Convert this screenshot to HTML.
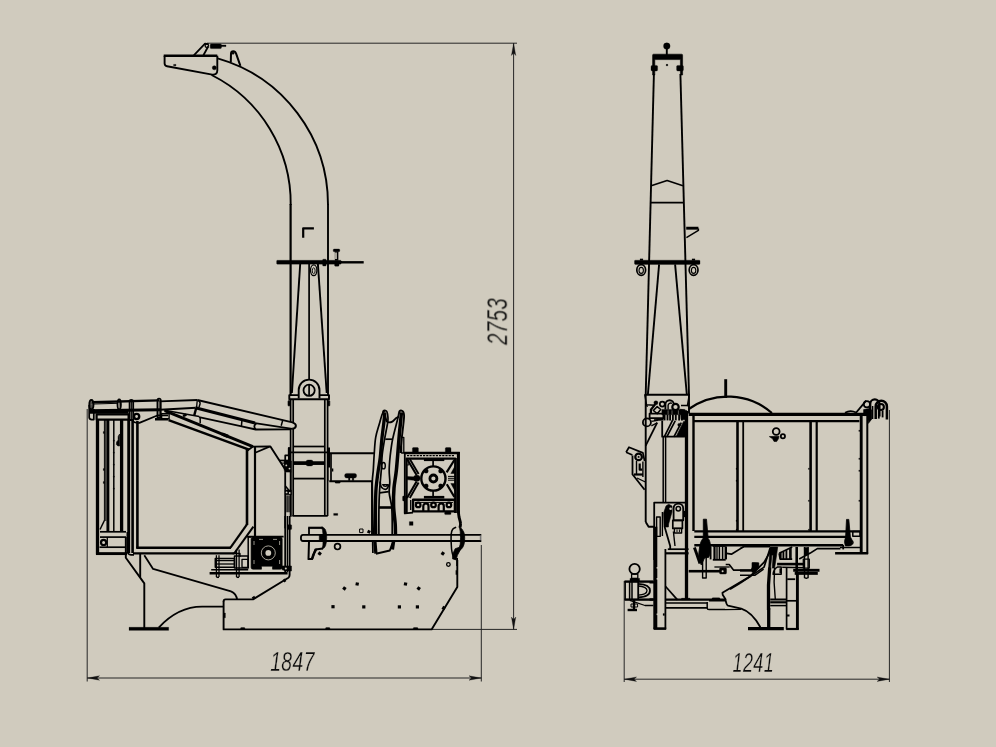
<!DOCTYPE html>
<html lang="en"><head><meta charset="utf-8"><title>Dimensions</title>
<style>
html,body{margin:0;padding:0;background:#d0cbbe;}
body{width:996px;height:747px;overflow:hidden;}
svg{display:block;}
svg *{stroke-linecap:butt;stroke-linejoin:round;}
.dim{font-family:"Liberation Sans",sans-serif;font-style:italic;font-size:27.6px;fill:#0a0a0a;stroke:#d0cbbe;stroke-width:0.35px;letter-spacing:0.6px;}
</style></head><body>
<svg width="996" height="747" viewBox="0 0 996 747">
<rect x="0" y="0" width="996" height="747" fill="#d0cbbe" stroke="none"/>
<!-- dimension lines -->
<line x1="87.2" y1="409" x2="87.2" y2="681.5" stroke="#262626" stroke-width="1"/>
<line x1="481.3" y1="545" x2="481.3" y2="681.5" stroke="#262626" stroke-width="1"/>
<line x1="87.2" y1="678" x2="481.3" y2="678" stroke="#262626" stroke-width="1"/>
<polygon points="87.2,678 99.5,675.8 97,678 99.5,680.2" fill="#111" stroke="#111" stroke-width="0.3"/>
<polygon points="481.3,678 469,675.8 471.5,678 469,680.2" fill="#111" stroke="#111" stroke-width="0.3"/>
<line x1="207" y1="43.2" x2="517" y2="43.2" stroke="#262626" stroke-width="1"/>
<line x1="432" y1="629.4" x2="517" y2="629.4" stroke="#262626" stroke-width="1"/>
<line x1="513.6" y1="43.2" x2="513.6" y2="629.4" stroke="#262626" stroke-width="1"/>
<polygon points="513.6,43.2 511.4,55.5 513.6,53 515.8,55.5" fill="#111" stroke="#111" stroke-width="0.3"/>
<polygon points="513.6,629.4 511.4,617.1 513.6,619.6 515.8,617.1" fill="#111" stroke="#111" stroke-width="0.3"/>
<line x1="624.2" y1="581" x2="624.2" y2="682" stroke="#262626" stroke-width="1"/>
<line x1="889.4" y1="410" x2="889.4" y2="682" stroke="#262626" stroke-width="1"/>
<line x1="624.2" y1="679.2" x2="889.4" y2="679.2" stroke="#262626" stroke-width="1"/>
<polygon points="624.2,679.2 636.5,677 634,679.2 636.5,681.4" fill="#111" stroke="#111" stroke-width="0.3"/>
<polygon points="889.4,679.2 877.1,677 879.6,679.2 877.1,681.4" fill="#111" stroke="#111" stroke-width="0.3"/>
<g opacity="0.999">
<text class="dim" transform="translate(270.2,671.2) scale(0.70,1)" x="0" y="0">1847</text>
<text class="dim" transform="translate(732.6,672) scale(0.65,1)" x="0" y="0">1241</text>
<text class="dim" style="font-size:29.2px" transform="translate(507.2,345) rotate(-90) scale(0.70,1)" x="0" y="0">2753</text>
</g>
<!-- left view: discharge chute -->
<path d="M217.6,58.4 A152,152 0 0 1 328,205" fill="none" stroke="#000" stroke-width="1.9"/>
<line x1="328" y1="204" x2="328" y2="395" stroke="#000" stroke-width="1.9"/>
<path d="M211.6,75 A143.8,143.8 0 0 1 290.7,205" fill="none" stroke="#000" stroke-width="1.9"/>
<line x1="290.6" y1="204" x2="290.6" y2="395" stroke="#000" stroke-width="2.2"/>
<path d="M163.7,55.7 L217.3,55.7" fill="none" stroke="#000" stroke-width="2.6"/>
<path d="M164.6,55.7 L164.6,63.5 Q164.8,66 167,66.3 L212.2,74.6 Q217.3,75 217.3,70.5 L217.3,55.7" fill="none" stroke="#000" stroke-width="1.9"/>
<circle cx="214.3" cy="67.8" r="2" fill="#000" stroke="#000" stroke-width="0.5"/>
<rect x="173.6" y="64.4" width="2.4" height="1.4" rx="0" fill="#000" stroke="#000" stroke-width="0.3"/>
<polyline points="193.8,55.3 205,43.7 208.6,44.1" fill="none" stroke="#000" stroke-width="1.8"/>
<polyline points="203.4,55.3 208.2,46.5" fill="none" stroke="#000" stroke-width="1.8"/>
<circle cx="206.8" cy="45.7" r="1.7" fill="none" stroke="#000" stroke-width="1.3"/>
<rect x="210.2" y="43.9" width="11.2" height="4.7" rx="1" fill="#000" stroke="#000" stroke-width="0.4"/>
<rect x="221" y="45" width="5" height="1.6" rx="0" fill="#000" stroke="#000" stroke-width="0.3"/>
<path d="M230.8,62 L231,53.6 Q231.2,51.3 233.3,51.3 Q235.3,51.3 236.1,53.6 L240.4,65.8" fill="none" stroke="#000" stroke-width="2"/>
<circle cx="233" cy="53.2" r="1.1" fill="#000" stroke="#000" stroke-width="0.6"/>
<polyline points="303.2,237.8 303.2,228.3 313.9,228.3" fill="none" stroke="#000" stroke-width="2.2"/>
<rect x="276.6" y="260.2" width="64.6" height="4" rx="0.8" fill="#000" stroke="#000" stroke-width="0.2"/>
<line x1="341" y1="262.3" x2="363.7" y2="262.3" stroke="#000" stroke-width="2.4"/>
<rect x="333.2" y="249" width="6.6" height="2.8" rx="1" fill="#000" stroke="#000" stroke-width="0.3"/>
<rect x="335" y="251.5" width="3.2" height="9" rx="0" fill="#000" stroke="#000" stroke-width="0.3"/>
<rect x="335.2" y="252.5" width="1.6" height="6.5" rx="0" fill="#d0cbbe" stroke="none" stroke-width="0.1"/>
<rect x="334.6" y="263" width="4.4" height="3.2" rx="0.8" fill="#000" stroke="#000" stroke-width="0.3"/>
<rect x="322.6" y="259.2" width="3.6" height="6.8" rx="0.8" fill="#000" stroke="#000" stroke-width="0.3"/>
<line x1="300.2" y1="264" x2="291.9" y2="393" stroke="#000" stroke-width="1.9"/>
<line x1="317.9" y1="264" x2="326.7" y2="393" stroke="#000" stroke-width="1.9"/>
<line x1="309.1" y1="264" x2="309.1" y2="379" stroke="#000" stroke-width="1.7"/>
<ellipse cx="313.7" cy="270.3" rx="3.2" ry="5.4" fill="none" stroke="#000" stroke-width="1.3"/>
<ellipse cx="313.7" cy="270.8" rx="1.4" ry="3" fill="none" stroke="#000" stroke-width="0.9"/>
<path d="M298.7,398.6 L298.7,390 A10.4,10.4 0 0 1 319.5,390 L319.5,398.6" fill="none" stroke="#000" stroke-width="1.9"/>
<circle cx="309.1" cy="390.3" r="5.6" fill="none" stroke="#000" stroke-width="1.8"/>
<line x1="309.1" y1="384.7" x2="309.1" y2="396" stroke="#000" stroke-width="1.7"/>
<!-- right view: discharge chute -->
<circle cx="666.8" cy="46.1" r="3.3" fill="#000" stroke="#000" stroke-width="0.3"/>
<line x1="666.8" y1="48" x2="666.8" y2="55" stroke="#000" stroke-width="1.9"/>
<path d="M652.6,75 L652.6,55.2 Q652.6,54.2 653.6,54.2 L681.6,54.2 Q682.6,54.2 682.6,55.2 L682.6,75 L680.4,75 L680.4,59.6 L654.8,59.6 L654.8,75 Z" fill="#000" stroke="#000" stroke-width="0.6"/>
<rect x="651" y="65.4" width="6.6" height="5.6" rx="1.2" fill="#000" stroke="#000" stroke-width="0.3"/>
<rect x="676.6" y="65.4" width="6.8" height="5.6" rx="1.2" fill="#000" stroke="#000" stroke-width="0.3"/>
<circle cx="667" cy="65.1" r="1" fill="#000" stroke="#000" stroke-width="0.2"/>
<line x1="653.9" y1="74" x2="645.7" y2="395" stroke="#000" stroke-width="1.9"/>
<line x1="680.4" y1="74" x2="689" y2="395" stroke="#000" stroke-width="1.9"/>
<polyline points="651.2,185.8 667.1,180.5 682.9,185.8" fill="none" stroke="#000" stroke-width="1.7"/>
<line x1="650.7" y1="202.7" x2="683.6" y2="202.7" stroke="#000" stroke-width="1.7"/>
<path d="M686.2,228.2 L698.4,228.2" fill="none" stroke="#000" stroke-width="2.9"/>
<polyline points="698.4,228.6 698.4,230.4 686.4,237.6" fill="none" stroke="#000" stroke-width="1.5"/>
<rect x="634.5" y="260.2" width="65.5" height="4.2" rx="0.8" fill="#000" stroke="#000" stroke-width="0.3"/>
<rect x="640" y="258.8" width="3" height="1.7" rx="0" fill="#000" stroke="#000" stroke-width="0.2"/>
<rect x="692" y="258.8" width="3" height="1.7" rx="0" fill="#000" stroke="#000" stroke-width="0.2"/>
<ellipse cx="641.2" cy="270" rx="4.4" ry="5.4" fill="none" stroke="#000" stroke-width="1.7"/>
<ellipse cx="641.2" cy="270.4" rx="2.2" ry="3" fill="none" stroke="#000" stroke-width="1.1"/>
<ellipse cx="693.6" cy="270" rx="4.4" ry="5.4" fill="none" stroke="#000" stroke-width="1.7"/>
<ellipse cx="693.6" cy="270.4" rx="2.2" ry="3" fill="none" stroke="#000" stroke-width="1.1"/>
<line x1="659.1" y1="264.4" x2="647.9" y2="394.2" stroke="#000" stroke-width="1.9"/>
<line x1="675.1" y1="264.4" x2="686.8" y2="394.2" stroke="#000" stroke-width="1.9"/>
<!-- left view: column, tank, base outline -->
<polyline points="298.7,395.1 289.3,395.1 289.3,399.3 329,399.3 329,395.1 319.5,395.1" fill="none" stroke="#000" stroke-width="1.9"/>
<line x1="290.6" y1="399" x2="290.6" y2="516" stroke="#000" stroke-width="1.7"/>
<line x1="293.2" y1="399" x2="293.2" y2="516" stroke="#000" stroke-width="1.7"/>
<line x1="324.8" y1="399" x2="324.8" y2="516" stroke="#000" stroke-width="1.7"/>
<line x1="327.6" y1="399" x2="327.6" y2="516" stroke="#000" stroke-width="1.7"/>
<rect x="288" y="400.6" width="2" height="5.4" rx="0.8" fill="#000" stroke="#000" stroke-width="0.6"/>
<rect x="328" y="400.6" width="1.8" height="5.4" rx="0.8" fill="#000" stroke="#000" stroke-width="0.6"/>
<line x1="293.2" y1="446.5" x2="324.8" y2="446.5" stroke="#000" stroke-width="1.7"/>
<line x1="289.3" y1="452.3" x2="329" y2="452.3" stroke="#000" stroke-width="1.7"/>
<line x1="289" y1="447.5" x2="289" y2="467.5" stroke="#000" stroke-width="2"/>
<line x1="329" y1="447.5" x2="329" y2="467.5" stroke="#000" stroke-width="2"/>
<line x1="331" y1="453.3" x2="331" y2="481" stroke="#000" stroke-width="1.7"/>
<line x1="327.8" y1="467" x2="327.8" y2="481.3" stroke="#000" stroke-width="1.3"/>
<line x1="293.2" y1="463.1" x2="324.8" y2="463.1" stroke="#000" stroke-width="3.7"/>
<line x1="293.2" y1="478.6" x2="324.8" y2="478.6" stroke="#000" stroke-width="1.8"/>
<rect x="306.1" y="460" width="6.9" height="6" rx="1.8" fill="#000" stroke="#000" stroke-width="0.3"/>
<line x1="292.4" y1="515.9" x2="327.7" y2="515.9" stroke="#000" stroke-width="1.9"/>
<polyline points="329.3,453.3 374.3,453.3" fill="none" stroke="#000" stroke-width="1.9"/>
<polyline points="329.3,481.3 372,481.3 372,534.4" fill="none" stroke="#000" stroke-width="1.9"/>
<rect x="344.6" y="473.4" width="12" height="4.6" rx="2" fill="#000" stroke="#000" stroke-width="0.3"/>
<rect x="348.4" y="477.5" width="1.6" height="3.1" rx="0" fill="#000" stroke="#000" stroke-width="0.3"/>
<rect x="352.2" y="477.5" width="1.6" height="3.1" rx="0" fill="#000" stroke="#000" stroke-width="0.3"/>
<rect x="332" y="468.6" width="1.2" height="2.8" rx="0" fill="#000" stroke="#000" stroke-width="0.2"/>
<rect x="335" y="481.4" width="5.3" height="1.8" rx="0.8" fill="#000" stroke="#000" stroke-width="0.2"/>
<path d="M223.6,601.4 Q223.6,599.4 225.6,599.4 L253,599.4 L288.4,577.7 Q289.6,576.8 289.6,575 L289.6,516" fill="none" stroke="#000" stroke-width="1.9"/>
<path d="M223.6,601 L223.6,629.4 L431.6,629.4 L457.3,586.9 L457.3,560" fill="none" stroke="#000" stroke-width="1.9"/>
<rect x="223.6" y="613" width="1.8" height="4.8" rx="0" fill="#000" stroke="#000" stroke-width="0.3"/>
<rect x="240.5" y="627.6" width="4.5" height="1.8" rx="0.8" fill="#000" stroke="#000" stroke-width="0.3"/>
<rect x="325.5" y="627.6" width="4.5" height="1.8" rx="0.8" fill="#000" stroke="#000" stroke-width="0.3"/>
<rect x="413.2" y="627.6" width="4.8" height="1.8" rx="0.8" fill="#000" stroke="#000" stroke-width="0.3"/>
<rect x="455.8" y="570.4" width="1.5" height="4.2" rx="0" fill="#000" stroke="#000" stroke-width="0.3"/>
<polyline points="283.5,581.2 285.6,579.8" fill="none" stroke="#000" stroke-width="2.9"/>
<polyline points="252.5,598.6 255,597" fill="none" stroke="#000" stroke-width="2.9"/>
<polyline points="442.8,609.5 444.6,606.5" fill="none" stroke="#000" stroke-width="3.1"/>
<rect x="342.8" y="586.8" width="3.2" height="3.2" fill="#000" transform="rotate(35 344.4 588.4)"/>
<rect x="355.6" y="582.4" width="3.2" height="3.2" fill="#000" transform="rotate(10 357.2 584)"/>
<rect x="403.9" y="582.4" width="3.2" height="3.2" fill="#000" transform="rotate(10 405.5 584)"/>
<rect x="417.1" y="586.8" width="3.2" height="3.2" fill="#000" transform="rotate(35 418.7 588.4)"/>
<rect x="331.4" y="605.1" width="3.2" height="3.2" fill="#000" transform="rotate(0 333 606.7)"/>
<rect x="362.2" y="605.3" width="3.2" height="3.2" fill="#000" transform="rotate(0 363.8 606.9)"/>
<rect x="397.8" y="605.3" width="3.2" height="3.2" fill="#000" transform="rotate(0 399.4 606.9)"/>
<rect x="415.8" y="605.3" width="3.2" height="3.2" fill="#000" transform="rotate(0 417.4 606.9)"/>
<rect x="441.2" y="551.9" width="3.2" height="3.2" fill="#000" transform="rotate(35 442.8 553.5)"/>
<rect x="318.1" y="552" width="3.2" height="3.2" fill="#000" transform="rotate(35 319.7 553.6)"/>
<circle cx="448.4" cy="564.5" r="1.8" fill="none" stroke="#000" stroke-width="1.3"/>
<circle cx="337.5" cy="546.6" r="2.9" fill="none" stroke="#000" stroke-width="1.7"/>
<rect x="409.3" y="521.6" width="3.8" height="3.8" rx="0" fill="#000" stroke="#000" stroke-width="0.2"/>
<rect x="359.6" y="529" width="3.4" height="3.6" rx="0" fill="none" stroke="#000" stroke-width="1"/>
<rect x="367.4" y="530.3" width="3" height="3" fill="#000" transform="rotate(25 368.9 531.8)"/>
<rect x="333.6" y="513.4" width="4.2" height="2" rx="0" fill="#000" stroke="#000" stroke-width="0.2"/>
<rect x="129" y="627.2" width="39.7" height="3.2" rx="0" fill="#000" stroke="#000" stroke-width="0.2"/>
<!-- left view: belt guard + gearbox -->
<path d="M384.7,410.8 C384.3,411.3 383.2,411.8 382.3,414 C381.4,416.2 380.4,420.2 379.3,424.1 C378.2,428 376.6,432.3 375.7,437.3 C374.8,442.3 374.6,448.8 374.2,454.2 C373.8,459.6 373.6,465.4 373.3,470 C373,474.6 372.4,476 372.3,482 C372.2,488 372.4,497.3 372.6,506 C372.8,514.7 373.2,529.7 373.3,534.4" fill="none" stroke="#000" stroke-width="1.7"/>
<line x1="372.7" y1="541.6" x2="372.9" y2="553.1" stroke="#000" stroke-width="1.7"/>
<path d="M384.8,413 C384.6,414.7 384.3,418.7 383.8,423 C383.3,427.3 382.5,432.8 381.9,438.6 C381.3,444.4 380.8,452.6 380.2,457.8 C379.6,463 379,465 378.3,470 C377.6,475 376.6,482 376.1,488 C375.6,494 375.6,498.3 375.5,506 C375.4,513.7 375.7,529.7 375.7,534.4" fill="none" stroke="#000" stroke-width="3.3"/>
<line x1="374.9" y1="541.6" x2="375.9" y2="553.7" stroke="#000" stroke-width="3.3"/>
<path d="M382.8,413 C382.9,412.6 383,411.3 383.4,410.9 C383.8,410.5 384.7,410.4 385.3,410.6 C385.9,410.8 386.6,410.9 387,412 C387.4,413.1 387.8,415.3 387.9,417 C388,418.7 388.2,418.7 387.7,422.3 C387.2,425.9 385.6,433.3 384.7,438.6 C383.8,443.9 382.9,449 382.3,454.2 C381.7,459.4 381.8,463.8 381.3,470 C380.8,476.2 379.9,485.1 379.5,491.7 C379.1,498.3 379,502.7 378.9,509.8 C378.8,516.9 378.9,530.3 378.9,534.4" fill="none" stroke="#000" stroke-width="1.7"/>
<path d="M384.6,412.2 C384.8,413.1 385.2,416 385.6,417.5 C386,419 386.2,420.6 386.8,421.4 C387.4,422.2 388.1,422.4 389,422.4 C389.9,422.4 391.1,422.3 392.3,421.6 C393.5,420.9 395.1,418.8 396.2,418 C397.3,417.2 398.4,416.8 398.8,416.6" fill="none" stroke="#000" stroke-width="1.9"/>
<path d="M398.8,413.3 C398.6,414.5 398.4,416.1 397.3,420.5 C396.2,424.9 393.7,433.8 392.5,439.8 C391.3,445.8 390.7,451.6 390.1,456.6 C389.6,461.6 389.2,465.8 389.2,470 C389.1,474.2 389.8,478.2 389.8,482 C389.8,485.8 388.9,488.9 389.2,492.9 C389.5,496.9 391.1,501.5 391.6,506.1 C392.1,510.7 392.1,515.9 392.2,520.6 C392.3,525.3 392.2,532.1 392.2,534.4" fill="none" stroke="#000" stroke-width="1.7"/>
<path d="M401.4,412.4 C401.3,413.9 401,417.8 400.6,421.7 C400.2,425.6 399.9,428.1 399.2,436.1 C398.5,444.2 397.3,461.4 396.4,470 C395.5,478.6 394.5,482 394,488 C393.5,494 393.4,500 393.6,506 C393.8,512 394.9,519.3 395.2,524 C395.5,528.7 395.4,532.7 395.5,534.4" fill="none" stroke="#000" stroke-width="3.5"/>
<line x1="393.6" y1="541.6" x2="392.4" y2="549.5" stroke="#000" stroke-width="3.3"/>
<path d="M398.8,414 C398.9,413.5 399.1,411.8 399.6,411.2 C400.1,410.6 401,410.4 401.6,410.6 C402.2,410.8 403,411.3 403.4,412.2 C403.8,413.1 404.1,414 404.1,416 C404.1,418 403.8,420 403.4,424 C403,428 402.1,435 401.6,439.8 C401.1,444.6 400.6,450.8 400.4,453" fill="none" stroke="#000" stroke-width="1.9"/>
<line x1="385.3" y1="439.2" x2="392.5" y2="439.2" stroke="#000" stroke-width="1.7"/>
<rect x="401.6" y="437.3" width="2.2" height="15.7" rx="0" fill="none" stroke="#000" stroke-width="1.3"/>
<ellipse cx="383.5" cy="465.7" rx="1.8" ry="3.2" fill="none" stroke="#000" stroke-width="1.4"/>
<path d="M380.1,481.5 C380.3,482.4 380.3,485.6 381.3,486.9 C382.3,488.2 384.8,489.7 386.1,489.3 C387.4,488.9 388.7,485.3 389.2,484.5" fill="none" stroke="#000" stroke-width="1.7"/>
<path d="M382.6,484.6 A3,3.2 0 0 0 388,484.6 Z" fill="none" stroke="#000" stroke-width="1.3"/>
<line x1="379.5" y1="492.9" x2="388.8" y2="491.7" stroke="#000" stroke-width="1.7"/>
<line x1="378.9" y1="507.5" x2="391.6" y2="507.5" stroke="#000" stroke-width="2.6"/>
<polyline points="375.9,553.7 389.8,550.5 392.8,542.3" fill="none" stroke="#000" stroke-width="1.9"/>
<line x1="404" y1="453" x2="459.8" y2="453" stroke="#000" stroke-width="2.6"/>
<line x1="458.4" y1="452" x2="458.4" y2="513" stroke="#000" stroke-width="3.1"/>
<line x1="404.8" y1="453" x2="404.8" y2="513.4" stroke="#000" stroke-width="1.8"/>
<rect x="412.4" y="447.6" width="6" height="5.4" rx="1" fill="#000" stroke="#000" stroke-width="0.3"/>
<rect x="445.3" y="447.6" width="5.7" height="5.4" rx="1" fill="#000" stroke="#000" stroke-width="0.3"/>
<line x1="407" y1="455.6" x2="455" y2="455.6" stroke="#000" stroke-width="1.1" stroke-dasharray="2.2 1"/>
<polyline points="406.6,513 406.6,458.6 455.2,458.6 455.2,513" fill="none" stroke="#000" stroke-width="2.2"/>
<line x1="455.9" y1="458" x2="455.9" y2="513" stroke="#000" stroke-width="1.8"/>
<line x1="423.9" y1="459.8" x2="444.3" y2="459.8" stroke="#000" stroke-width="2.6"/>
<line x1="433.1" y1="460" x2="433.1" y2="466.5" stroke="#000" stroke-width="1.7"/>
<line x1="423.9" y1="497.2" x2="444.3" y2="497.2" stroke="#000" stroke-width="2.6"/>
<line x1="433.1" y1="490.5" x2="433.1" y2="497" stroke="#000" stroke-width="1.7"/>
<circle cx="433.4" cy="478.5" r="12.1" fill="none" stroke="#000" stroke-width="2.4"/>
<circle cx="433.4" cy="478.5" r="3.5" fill="none" stroke="#000" stroke-width="2.8"/>
<circle cx="426.1" cy="471" r="2.3" fill="#000" stroke="#000" stroke-width="0.2"/>
<circle cx="426.1" cy="486" r="2.3" fill="#000" stroke="#000" stroke-width="0.2"/>
<circle cx="440.7" cy="471" r="2.3" fill="#000" stroke="#000" stroke-width="0.2"/>
<circle cx="440.7" cy="486" r="2.3" fill="#000" stroke="#000" stroke-width="0.2"/>
<polyline points="407,459 416.6,475" fill="none" stroke="#000" stroke-width="2.1"/>
<polyline points="409.8,459 418.6,474" fill="none" stroke="#000" stroke-width="1.9"/>
<polyline points="407,498 416.6,481.5" fill="none" stroke="#000" stroke-width="2.1"/>
<polyline points="409.8,498 418.6,482.5" fill="none" stroke="#000" stroke-width="1.9"/>
<circle cx="416.8" cy="478.3" r="3.3" fill="#000" stroke="#000" stroke-width="0.2"/>
<path d="M406.4,476.6 L416.6,477 L416.6,480.4 L406.4,479.6 Z" fill="#000" stroke="#000" stroke-width="0.5"/>
<polyline points="454.4,460 446.6,472.4" fill="none" stroke="#000" stroke-width="2.2"/>
<polyline points="454.4,497 446.8,484.2" fill="none" stroke="#000" stroke-width="2.2"/>
<path d="M455,466 L455,473.5 L450.8,473.5 Z" fill="#000" stroke="#000" stroke-width="0.4"/>
<path d="M455,491 L455,483.5 L450.8,483.5 Z" fill="#000" stroke="#000" stroke-width="0.4"/>
<line x1="448" y1="476.4" x2="455.4" y2="476.4" stroke="#000" stroke-width="1"/>
<line x1="448" y1="478.3" x2="455.4" y2="478.3" stroke="#000" stroke-width="1"/>
<line x1="448" y1="480.2" x2="455.4" y2="480.2" stroke="#000" stroke-width="1"/>
<rect x="406.6" y="460.2" width="2.2" height="4.8" rx="0" fill="none" stroke="#000" stroke-width="1"/>
<rect x="413.1" y="499.7" width="41.8" height="11.7" rx="0" fill="none" stroke="#000" stroke-width="2.4"/>
<line x1="415" y1="502.4" x2="453" y2="502.4" stroke="#000" stroke-width="1"/>
<circle cx="418.2" cy="504.9" r="2.3" fill="none" stroke="#000" stroke-width="2.2"/>
<circle cx="433.5" cy="504.9" r="2.3" fill="none" stroke="#000" stroke-width="2.2"/>
<circle cx="448.9" cy="504.9" r="2.3" fill="none" stroke="#000" stroke-width="2.2"/>
<path d="M423.3,511 L423.3,506 A2.6,2.6 0 0 1 428.5,506 L428.5,511" fill="none" stroke="#000" stroke-width="2.2"/>
<path d="M438.6,511 L438.6,506 A2.6,2.6 0 0 1 443.8,506 L443.8,511" fill="none" stroke="#000" stroke-width="2.2"/>
<polyline points="404.8,495.8 404.8,513.4 413,512.6" fill="none" stroke="#000" stroke-width="1.8"/>
<line x1="410.7" y1="500" x2="410.7" y2="510" stroke="#000" stroke-width="1.3"/>
<rect x="402.6" y="496" width="2" height="5" rx="0.8" fill="#000" stroke="#000" stroke-width="0.3"/>
<rect x="444.6" y="512" width="6.4" height="2.6" rx="0.8" fill="#000" stroke="#000" stroke-width="0.3"/>
<!-- axle -->
<path d="M481.3,534.8 L303,534.8 Q300.9,534.8 300.9,537.9 Q300.9,541 303,541 L481.3,541" fill="#d0cbbe" stroke="#000" stroke-width="1.8"/>
<rect x="479.8" y="535.6" width="1.6" height="4.6" rx="0" fill="#777" stroke="none" stroke-width="0.2"/>
<polyline points="308.2,527.8 323,527.8" fill="none" stroke="#000" stroke-width="2.2"/>
<path d="M309,527.8 L309,534.4" fill="none" stroke="#000" stroke-width="1.8"/>
<path d="M309,541.5 L308.5,559.1 L312.1,559.1 L315.3,549.5 L323,548.6" fill="none" stroke="#000" stroke-width="2"/>
<path d="M311.1,559.1 312.8,554 315.3,549.4 317.2,549 314.6,554 312.8,559.1Z" fill="#000" stroke="#000" stroke-width="0.8"/>
<path d="M321.4,527 Q326.8,527 326.7,537.3 Q326.8,548.2 322,549.1 Q323.3,545 323,541.3 L319.3,541.3 L319.3,534.6 L323,534.6 Q323,530.2 321.4,527 Z" fill="#000" stroke="#000" stroke-width="0.6"/>
<path d="M458.3,511.2 C458.4,512.2 458.7,514.8 459,516.9 C459.4,518.9 460.4,521.6 460.5,523.4 C460.7,525.2 460.1,526.9 460,527.6" fill="none" stroke="#000" stroke-width="2.9"/>
<path d="M456.1,527.2 C455.6,527.5 453.5,528.1 452.7,529.2 C451.9,530.3 451.5,531.1 451.3,533.7 C451,536.3 451.1,541.8 451.3,544.9 C451.4,548.1 451.7,550.5 452.1,552.4 C452.5,554.4 453.2,556 453.4,556.7" fill="none" stroke="#000" stroke-width="1.5"/>
<path d="M459.4,526.7 Q465.2,530.9 464.7,538.4 Q464.7,545.9 461.3,549.2 L458.3,551 Q461.1,544 460.5,537.5 Q460.5,530.9 459.4,526.7 Z" fill="#000" stroke="#000" stroke-width="0.8"/>
<path d="M455.2,548.7 459.4,547.3 460.5,549.6 457.4,555.3 456.1,559.9 452.5,558.8 453,553.4Z" fill="#000" stroke="#000" stroke-width="0.8"/>
<line x1="457.1" y1="558" x2="457.1" y2="566" stroke="#000" stroke-width="1.8"/>
<!-- left view: feed hopper, rails and rear frame -->
<line x1="97.5" y1="420" x2="97.5" y2="554.5" stroke="#000" stroke-width="3.3"/>
<line x1="104.4" y1="420" x2="104.4" y2="521" stroke="#000" stroke-width="1"/>
<line x1="105.8" y1="420" x2="105.8" y2="521" stroke="#000" stroke-width="1"/>
<line x1="107.9" y1="420" x2="107.9" y2="532" stroke="#000" stroke-width="2.9"/>
<line x1="113.8" y1="420" x2="113.8" y2="532" stroke="#000" stroke-width="1.5"/>
<line x1="121.6" y1="420" x2="121.6" y2="532" stroke="#000" stroke-width="3.3"/>
<line x1="128.7" y1="420" x2="128.7" y2="553" stroke="#000" stroke-width="2.9"/>
<line x1="132.6" y1="420" x2="132.6" y2="553" stroke="#000" stroke-width="2.6"/>
<line x1="137.4" y1="421" x2="137.4" y2="548" stroke="#000" stroke-width="2.6"/>
<rect x="103.2" y="431.5" width="1.4" height="2" rx="0" fill="#000" stroke="#000" stroke-width="0.2"/>
<rect x="103.2" y="468.5" width="1.4" height="2" rx="0" fill="#000" stroke="#000" stroke-width="0.2"/>
<rect x="103.2" y="481.5" width="1.4" height="2" rx="0" fill="#000" stroke="#000" stroke-width="0.2"/>
<rect x="113.2" y="440" width="1.2" height="1.2" rx="0" fill="#000" stroke="#000" stroke-width="0.2"/>
<rect x="113.2" y="452" width="1.2" height="1.2" rx="0" fill="#000" stroke="#000" stroke-width="0.2"/>
<rect x="113.2" y="464" width="1.2" height="1.2" rx="0" fill="#000" stroke="#000" stroke-width="0.2"/>
<rect x="113.2" y="476" width="1.2" height="1.2" rx="0" fill="#000" stroke="#000" stroke-width="0.2"/>
<rect x="113.2" y="488" width="1.2" height="1.2" rx="0" fill="#000" stroke="#000" stroke-width="0.2"/>
<path d="M119.6,434 Q117.5,436 118.2,440 Q116,441.5 116.4,444.5 Q117.5,446.5 119.6,446 Z" fill="#000" stroke="#000" stroke-width="0.6"/>
<line x1="96" y1="553.6" x2="127" y2="553.6" stroke="#000" stroke-width="2.9"/>
<polyline points="104.4,520.5 100,529.5" fill="none" stroke="#000" stroke-width="1.5"/>
<line x1="100" y1="531.8" x2="126" y2="531.8" stroke="#000" stroke-width="1.7"/>
<line x1="100" y1="537.1" x2="126" y2="537.1" stroke="#000" stroke-width="1.7"/>
<line x1="99.5" y1="547.2" x2="125.5" y2="547.2" stroke="#000" stroke-width="1.7"/>
<line x1="107.3" y1="537.1" x2="107.3" y2="547.2" stroke="#000" stroke-width="1.3"/>
<circle cx="103.6" cy="542.4" r="2.6" fill="none" stroke="#000" stroke-width="2.2"/>
<path d="M127.4,532 L127.4,551 Q127.6,554.6 131,554.8 L134,554.8" fill="none" stroke="#000" stroke-width="1.8"/>
<polyline points="125.8,537 125.8,557.7 144.3,583.4 144.3,628" fill="none" stroke="#000" stroke-width="1.9"/>
<polyline points="140.2,553.6 140.2,577.6" fill="none" stroke="#000" stroke-width="1.9"/>
<polyline points="144.3,555.2 153.1,568.9 231,591.4" fill="none" stroke="#000" stroke-width="1.8"/>
<path d="M231,591.4 Q236.4,593.6 237.2,600" fill="none" stroke="#000" stroke-width="1.8"/>
<path d="M158.7,627.6 Q178,606.6 202.1,606.6 L223.6,606.6" fill="none" stroke="#000" stroke-width="1.8"/>
<line x1="136.2" y1="547.7" x2="231" y2="547.7" stroke="#000" stroke-width="2.4"/>
<line x1="133" y1="553.3" x2="234.4" y2="553.3" stroke="#000" stroke-width="2.2"/>
<polyline points="230.5,547.7 246.8,524.7" fill="none" stroke="#000" stroke-width="2.2"/>
<polyline points="234.2,553.4 253.4,526.6" fill="none" stroke="#000" stroke-width="2"/>
<line x1="247" y1="449" x2="247" y2="525" stroke="#000" stroke-width="2.6"/>
<line x1="255" y1="446.6" x2="255" y2="537" stroke="#000" stroke-width="2.2"/>
<line x1="164.6" y1="410.6" x2="252.9" y2="446.6" stroke="#000" stroke-width="2.9"/>
<line x1="168.6" y1="420.1" x2="249" y2="449.6" stroke="#000" stroke-width="2.6"/>
<polyline points="252.9,446.6 247.6,450.4" fill="none" stroke="#000" stroke-width="1.8"/>
<polyline points="222,434 228,436.4" fill="none" stroke="#000" stroke-width="3.5"/>
<polyline points="252.9,446.6 270.4,446.4 285.2,469.5" fill="none" stroke="#000" stroke-width="1.9"/>
<polyline points="255.2,452.7 269.5,446.6" fill="none" stroke="#000" stroke-width="1.7"/>
<line x1="92" y1="402.3" x2="159" y2="400.4" stroke="#000" stroke-width="2.4"/>
<line x1="159.6" y1="401.4" x2="197.4" y2="400" stroke="#000" stroke-width="1.9"/>
<line x1="89" y1="410.7" x2="160" y2="409.7" stroke="#000" stroke-width="3.1"/>
<line x1="160" y1="409.7" x2="196.2" y2="407.7" stroke="#000" stroke-width="1.9"/>
<line x1="94" y1="404" x2="118" y2="403.3" stroke="#000" stroke-width="1"/>
<ellipse cx="91.4" cy="404.6" rx="2" ry="4.6" fill="none" stroke="#000" stroke-width="2"/>
<ellipse cx="91.4" cy="404.6" rx="0.6" ry="3" fill="none" stroke="#000" stroke-width="0.8"/>
<path d="M89.2,405 L89.2,417.5 Q89.6,419.6 91.6,419.6 L93.8,419.6 L93.8,409" fill="none" stroke="#000" stroke-width="1.7"/>
<ellipse cx="119.2" cy="404.4" rx="1.7" ry="4.9" fill="none" stroke="#000" stroke-width="1.8"/>
<line x1="119.9" y1="401" x2="120.3" y2="409.8" stroke="#000" stroke-width="1"/>
<path d="M129.6,402 Q129.4,399.8 131.2,399.8 Q133.2,399.8 133.2,402 L133.2,420 L129.6,420 Z" fill="none" stroke="#000" stroke-width="1.8"/>
<line x1="131.4" y1="401.5" x2="131.4" y2="419.5" stroke="#000" stroke-width="1"/>
<path d="M157.4,400.6 Q157.4,398.7 159,398.7 Q160.8,398.7 160.8,400.6 L160.8,417.6 L157.4,417.6 Z" fill="none" stroke="#000" stroke-width="1.7"/>
<line x1="159.2" y1="400" x2="159.2" y2="417.4" stroke="#000" stroke-width="0.9"/>
<line x1="89.6" y1="412.2" x2="128.5" y2="412.2" stroke="#000" stroke-width="2.9"/>
<rect x="96.6" y="414.4" width="32" height="5.2" rx="0" fill="none" stroke="#000" stroke-width="2.2"/>
<circle cx="136.6" cy="416.5" r="2.6" fill="none" stroke="#000" stroke-width="2.4"/>
<path d="M132.2,420.9 Q135.5,423.4 139.4,422.9 L157.9,415.3 L168,415.3" fill="none" stroke="#000" stroke-width="1.7"/>
<line x1="155" y1="419.3" x2="168.4" y2="419.4" stroke="#000" stroke-width="2.4"/>
<rect x="161.6" y="413.6" width="7.5" height="5.2" rx="0" fill="none" stroke="#000" stroke-width="1.4"/>
<path d="M195.4,407.8 L197.4,400 L292.4,422.3 Q296.2,423.6 295.9,426 Q295.5,428.6 292.2,428.8 L255,423.1 Z" fill="#d0cbbe" stroke="#d0cbbe" stroke-width="0.1"/>
<path d="M197.4,400 L292.4,422.3 Q296.2,423.6 295.9,426 Q295.5,428.6 292.2,428.8" fill="none" stroke="#000" stroke-width="1.9"/>
<path d="M197.6,400.4 Q200.6,401.4 200,404 L199,407.4" fill="none" stroke="#000" stroke-width="1.5"/>
<line x1="197.2" y1="400.6" x2="196.6" y2="407.4" stroke="#000" stroke-width="1.3"/>
<line x1="195.4" y1="407.8" x2="255" y2="423.1" stroke="#000" stroke-width="3.1"/>
<line x1="255" y1="423.1" x2="292.4" y2="428.8" stroke="#000" stroke-width="1.8"/>
<polyline points="282.8,419.9 281.2,425.8" fill="none" stroke="#000" stroke-width="1.5"/>
<polyline points="199,417.1 240.6,426.1 255.7,429.5 290.4,429.3" fill="none" stroke="#000" stroke-width="1.8"/>
<path d="M256.4,423.3 Q252.6,426 255.7,429.5" fill="none" stroke="#000" stroke-width="1.8"/>
<line x1="200.2" y1="417.1" x2="200.2" y2="423.3" stroke="#000" stroke-width="1.5"/>
<polyline points="242,419.6 241.4,426.2" fill="none" stroke="#000" stroke-width="1.5"/>
<polyline points="196.2,408 194.2,415.6" fill="none" stroke="#000" stroke-width="2.4"/>
<polyline points="164.4,410.2 199.2,416.6" fill="none" stroke="#000" stroke-width="1.5"/>
<polyline points="183,416 186.4,414.6" fill="none" stroke="#000" stroke-width="2.6"/>
<line x1="209.6" y1="573.2" x2="287.6" y2="573.2" stroke="#000" stroke-width="2.6"/>
<line x1="211.2" y1="569.7" x2="248.2" y2="569.7" stroke="#000" stroke-width="1.5"/>
<line x1="216.4" y1="555.2" x2="216.4" y2="577" stroke="#000" stroke-width="1.3"/>
<line x1="219" y1="555.2" x2="219" y2="577" stroke="#000" stroke-width="1.3"/>
<line x1="216.4" y1="577.3" x2="219" y2="577.3" stroke="#000" stroke-width="1.5"/>
<line x1="236.5" y1="549.6" x2="236.5" y2="577" stroke="#000" stroke-width="1.3"/>
<line x1="239.1" y1="549.6" x2="239.1" y2="577" stroke="#000" stroke-width="1.3"/>
<line x1="236.5" y1="577.3" x2="239.1" y2="577.3" stroke="#000" stroke-width="1.5"/>
<rect x="215.3" y="558.5" width="19.2" height="8.8" rx="0" fill="none" stroke="#000" stroke-width="1.5"/>
<line x1="215.3" y1="560.6" x2="234.5" y2="560.6" stroke="#000" stroke-width="1.3"/>
<line x1="215.3" y1="564" x2="234.5" y2="564" stroke="#000" stroke-width="1.3"/>
<rect x="234.5" y="556" width="13.7" height="12" rx="0" fill="none" stroke="#000" stroke-width="1.5"/>
<rect x="242" y="559.3" width="6.2" height="8" rx="0" fill="none" stroke="#000" stroke-width="1.3"/>
<polyline points="232.5,553.5 240,553.5 240,557" fill="none" stroke="#000" stroke-width="1.3"/>
<!-- left view: motor box and parts between hopper and column -->
<path d="M253,537.1 L280.4,537.1 Q282.2,537.1 282.2,539 L282.2,567.4 Q282.2,569.2 280.4,569.2 L272.5,569.2 L272.5,566.2 L261.5,566.2 L261.5,569.2 L253,569.2 Q251.1,569.2 251.1,567.4 L251.1,539 Q251.1,537.1 253,537.1 Z" fill="#000" stroke="#000" stroke-width="0.6"/>
<circle cx="268.3" cy="552.9" r="7" fill="none" stroke="#d0cbbe" stroke-width="0.8"/>
<circle cx="268.3" cy="552.9" r="2.9" fill="#d0cbbe" stroke="none" stroke-width="0.2"/>
<line x1="254" y1="541" x2="254" y2="545" stroke="#d0cbbe" stroke-width="0.7"/>
<line x1="254" y1="560" x2="254" y2="564" stroke="#d0cbbe" stroke-width="0.7"/>
<line x1="279.6" y1="541" x2="279.6" y2="545" stroke="#d0cbbe" stroke-width="0.7"/>
<line x1="279.6" y1="560" x2="279.6" y2="564" stroke="#d0cbbe" stroke-width="0.7"/>
<line x1="259" y1="539.4" x2="263" y2="539.4" stroke="#d0cbbe" stroke-width="0.7"/>
<line x1="273" y1="539.4" x2="277" y2="539.4" stroke="#d0cbbe" stroke-width="0.7"/>
<polyline points="248.2,568 248.2,537.1 251,537.1" fill="none" stroke="#000" stroke-width="1.5"/>
<line x1="247" y1="536.6" x2="283.6" y2="536.6" stroke="#000" stroke-width="1.8"/>
<line x1="285.2" y1="516" x2="285.2" y2="572" stroke="#000" stroke-width="1.8"/>
<line x1="287.4" y1="516" x2="287.4" y2="572" stroke="#000" stroke-width="1.3"/>
<rect x="287.6" y="524.7" width="4" height="4.9" rx="0.8" fill="#000" stroke="#000" stroke-width="0.4"/>
<path d="M282,566 L291.4,566 L291.4,571 L286,571 L282,569.6 Z" fill="#000" stroke="#000" stroke-width="0.6"/>
<circle cx="285.8" cy="568.6" r="1" fill="#d0cbbe" stroke="none" stroke-width="0.2"/>
<polyline points="279.8,460.5 289,460.5" fill="none" stroke="#000" stroke-width="1.7"/>
<polyline points="281,463.1 285.2,463.1" fill="none" stroke="#000" stroke-width="1.1"/>
<polyline points="285.2,469.7 285.2,455.4 288.7,455.4 288.7,448 290.6,448" fill="none" stroke="#000" stroke-width="1.7"/>
<path d="M284.2,461 291.4,461 291.4,472.1 284.7,472.1 284.2,469.9Z" fill="#000" stroke="#000" stroke-width="0.5"/>
<circle cx="286.3" cy="465.4" r="0.9" fill="#d0cbbe" stroke="none" stroke-width="0.2"/>
<circle cx="289.5" cy="468.6" r="0.9" fill="#d0cbbe" stroke="none" stroke-width="0.2"/>
<polyline points="285.2,472.1 285.2,528.4" fill="none" stroke="#000" stroke-width="1.8"/>
<polyline points="290.9,472.1 290.9,517.1" fill="none" stroke="#000" stroke-width="1.3"/>
<polyline points="285.2,485.8 289.2,490.8" fill="none" stroke="#000" stroke-width="1.5"/>
<path d="M285.2,490 291.4,490 291.4,494.8 285.2,494.8Z" fill="#000" stroke="#000" stroke-width="0.5"/>
<circle cx="286.6" cy="492.4" r="0.9" fill="#d0cbbe" stroke="none" stroke-width="0.2"/>
<circle cx="289.7" cy="493" r="0.9" fill="#d0cbbe" stroke="none" stroke-width="0.2"/>
<polyline points="287.1,495.4 287.1,512.3" fill="none" stroke="#000" stroke-width="1.3"/>
<polyline points="289,495.4 289,512.3" fill="none" stroke="#000" stroke-width="1.3"/>
<!-- right view: body -->
<line x1="645" y1="394.7" x2="689" y2="394.7" stroke="#000" stroke-width="1.9"/>
<line x1="645.7" y1="394" x2="645.7" y2="522" stroke="#000" stroke-width="1.9"/>
<polyline points="645.7,522 648.6,526.7 654.4,526.7" fill="none" stroke="#000" stroke-width="1.9"/>
<line x1="689" y1="394" x2="689" y2="413.5" stroke="#000" stroke-width="1.9"/>
<polyline points="645.7,405.4 647.9,406.4" fill="none" stroke="#000" stroke-width="1.4"/>
<polyline points="689,406.2 686.8,405.4" fill="none" stroke="#000" stroke-width="1.4"/>
<path d="M688.8,409 A67.4,67.4 0 0 1 771.9,413" fill="none" stroke="#000" stroke-width="2.2"/>
<line x1="725.7" y1="379.2" x2="725.7" y2="398" stroke="#000" stroke-width="2.9"/>
<line x1="688.7" y1="414.4" x2="868.1" y2="414.4" stroke="#000" stroke-width="3.1"/>
<line x1="693.5" y1="421.1" x2="859.4" y2="421.1" stroke="#000" stroke-width="2.2"/>
<line x1="686.5" y1="411" x2="686.5" y2="600" stroke="#000" stroke-width="3.3"/>
<line x1="693.5" y1="415" x2="693.5" y2="531" stroke="#000" stroke-width="2.4"/>
<line x1="663.2" y1="437" x2="663.2" y2="502" stroke="#000" stroke-width="1.5"/>
<line x1="665.6" y1="437" x2="665.6" y2="502" stroke="#000" stroke-width="1.5"/>
<line x1="737.5" y1="421" x2="737.5" y2="531.4" stroke="#000" stroke-width="2.6"/>
<line x1="743.2" y1="421" x2="743.2" y2="531.4" stroke="#000" stroke-width="1.8"/>
<line x1="810.6" y1="421" x2="810.6" y2="531.4" stroke="#000" stroke-width="2.6"/>
<line x1="816.7" y1="421" x2="816.7" y2="531.4" stroke="#000" stroke-width="2.2"/>
<rect x="736" y="468" width="1" height="1.5" rx="0" fill="#000" stroke="#000" stroke-width="0.2"/>
<rect x="736" y="480" width="1" height="1.5" rx="0" fill="#000" stroke="#000" stroke-width="0.2"/>
<rect x="736" y="520" width="1" height="1.5" rx="0" fill="#000" stroke="#000" stroke-width="0.2"/>
<rect x="736" y="529" width="1" height="1.5" rx="0" fill="#000" stroke="#000" stroke-width="0.2"/>
<rect x="808.4" y="468" width="1" height="1.5" rx="0" fill="#000" stroke="#000" stroke-width="0.2"/>
<rect x="808.4" y="500" width="1" height="1.5" rx="0" fill="#000" stroke="#000" stroke-width="0.2"/>
<rect x="808.4" y="529" width="1" height="1.5" rx="0" fill="#000" stroke="#000" stroke-width="0.2"/>
<line x1="861.2" y1="413" x2="861.2" y2="554" stroke="#000" stroke-width="2.9"/>
<line x1="867.3" y1="414" x2="867.3" y2="554" stroke="#000" stroke-width="2"/>
<rect x="858.8" y="430" width="1" height="1.5" rx="0" fill="#000" stroke="#000" stroke-width="0.2"/>
<rect x="858.8" y="458" width="1" height="1.5" rx="0" fill="#000" stroke="#000" stroke-width="0.2"/>
<rect x="858.8" y="470" width="1" height="1.5" rx="0" fill="#000" stroke="#000" stroke-width="0.2"/>
<rect x="858.8" y="500" width="1" height="1.5" rx="0" fill="#000" stroke="#000" stroke-width="0.2"/>
<line x1="694.3" y1="531.4" x2="860" y2="531.4" stroke="#000" stroke-width="2.4"/>
<line x1="694.3" y1="536.8" x2="846.4" y2="536.8" stroke="#000" stroke-width="2.2"/>
<line x1="694.3" y1="545.2" x2="843.2" y2="545.2" stroke="#000" stroke-width="2.4"/>
<rect x="852.8" y="531.4" width="7.2" height="4.8" rx="0" fill="none" stroke="#000" stroke-width="1.5"/>
<line x1="840" y1="547.5" x2="861" y2="547.5" stroke="#000" stroke-width="1.5"/>
<line x1="835.1" y1="553.2" x2="868.1" y2="553.2" stroke="#000" stroke-width="2.6"/>
<circle cx="851.5" cy="542.4" r="1.6" fill="none" stroke="#000" stroke-width="1.3"/>
<path d="M843.2,545 L843.2,549.4" fill="none" stroke="#000" stroke-width="1.8"/>
<path d="M846.5,519.4 L848.8,519.4 L850.4,537 Q852.8,540 852.4,543.6 Q852,546 849,545.9 L845.4,545.9 Q843.6,542 845.6,537 Z" fill="#000" stroke="#000" stroke-width="0.8"/>
<circle cx="776.2" cy="431.5" r="3.4" fill="none" stroke="#000" stroke-width="1.8"/>
<circle cx="782.9" cy="436.2" r="2.1" fill="none" stroke="#000" stroke-width="1.8"/>
<path d="M769.3,436.6 L779,436.2 L778.6,438.6 L776.6,441.6 L774,441.4 L772.6,438.8 Z" fill="#000" stroke="#000" stroke-width="0.6"/>
<polyline points="644.7,394.4 646.6,404.8 654.6,405.2" fill="none" stroke="#000" stroke-width="1.4"/>
<polyline points="689.3,394.4 687.4,405.5 681,405.5" fill="none" stroke="#000" stroke-width="1.4"/>
<circle cx="655.9" cy="402.8" r="2.1" fill="#000" stroke="#000" stroke-width="0.3"/>
<polyline points="655.3,404.1 650.9,409.7 650.9,413.6" fill="none" stroke="#000" stroke-width="2.2"/>
<polygon points="657.2,406.6 660.7,409.5 657.2,413.7 653.3,410.5" fill="none" stroke="#000" stroke-width="1.5"/>
<circle cx="662.3" cy="404.1" r="2.5" fill="none" stroke="#000" stroke-width="1.7"/>
<path d="M665.4,409.5 L665.4,404.4 A4.2,4.2 0 0 1 673.8,404.4" fill="none" stroke="#000" stroke-width="1.9"/>
<path d="M668.1,409.5 L668.1,405.3 A2.6,2.6 0 0 1 672,403.4" fill="none" stroke="#000" stroke-width="1.4"/>
<circle cx="675.5" cy="407" r="3.2" fill="none" stroke="#000" stroke-width="2.2"/>
<rect x="661.8" y="409.4" width="23" height="5.4" rx="0" fill="#000" stroke="#000" stroke-width="0.3"/>
<line x1="668.1" y1="410.4" x2="668.1" y2="414.8" stroke="#8a8780" stroke-width="0.7"/>
<line x1="672" y1="410.4" x2="672" y2="414.8" stroke="#8a8780" stroke-width="0.7"/>
<line x1="678.4" y1="410.4" x2="678.4" y2="414.8" stroke="#8a8780" stroke-width="0.7"/>
<line x1="664.6" y1="414.5" x2="664.6" y2="420.4" stroke="#000" stroke-width="1.8"/>
<line x1="667.5" y1="414.5" x2="667.5" y2="420.4" stroke="#000" stroke-width="1.8"/>
<line x1="670.1" y1="414.5" x2="670.1" y2="420.4" stroke="#000" stroke-width="1.8"/>
<line x1="672.9" y1="414.5" x2="672.9" y2="420.4" stroke="#000" stroke-width="1.8"/>
<line x1="675.8" y1="414.5" x2="675.8" y2="420.4" stroke="#000" stroke-width="1.8"/>
<line x1="679.1" y1="414.5" x2="679.1" y2="420.4" stroke="#000" stroke-width="1.8"/>
<line x1="681.9" y1="414.5" x2="681.9" y2="420.4" stroke="#000" stroke-width="1.8"/>
<path d="M680.3,409.2 686.8,410.5 686.8,420.1 681,419.5Z" fill="#000" stroke="#000" stroke-width="0.5"/>
<rect x="649.6" y="413.6" width="13.8" height="4.6" rx="0" fill="none" stroke="#000" stroke-width="1.8"/>
<polyline points="654,420.1 663.6,419.5" fill="none" stroke="#000" stroke-width="1.8"/>
<circle cx="646.9" cy="422.4" r="4" fill="none" stroke="#000" stroke-width="1.8"/>
<polyline points="651.4,421.4 657.8,420.4" fill="none" stroke="#000" stroke-width="1.4"/>
<polyline points="657.2,422.7 645.6,445.8" fill="none" stroke="#000" stroke-width="1.8"/>
<polyline points="651.4,425.9 657.2,422.7" fill="none" stroke="#000" stroke-width="1.3"/>
<polyline points="662.2,420.7 662.2,436.7 684.9,436.7" fill="none" stroke="#000" stroke-width="1.8"/>
<polyline points="672.6,420.1 664.3,436.8" fill="none" stroke="#000" stroke-width="1.7"/>
<polyline points="675.2,420.8 666.8,436.8" fill="none" stroke="#000" stroke-width="1.7"/>
<polyline points="681.3,422.7 673.9,436.8" fill="none" stroke="#000" stroke-width="1.7"/>
<path d="M683.6,421.4 685.5,421.4 685.5,436.5 676.2,436.5Z" fill="#000" stroke="#000" stroke-width="0.6"/>
<circle cx="679.2" cy="424.8" r="1.6" fill="#000" stroke="#000" stroke-width="0.2"/>
<path d="M626.1,452.2 L629,447.2 L642.9,452.9 L644.6,461" fill="none" stroke="#000" stroke-width="1.7"/>
<polyline points="626.1,452.2 632.4,455" fill="none" stroke="#000" stroke-width="1.7"/>
<circle cx="638.6" cy="456.9" r="3.3" fill="none" stroke="#000" stroke-width="2.2"/>
<circle cx="638.6" cy="456.9" r="0.9" fill="#000" stroke="#000" stroke-width="0.2"/>
<polyline points="632.5,455.5 632.5,474.5 634,476.2 644.6,489.8" fill="none" stroke="#000" stroke-width="1.8"/>
<polyline points="636.5,461 636.5,474.5" fill="none" stroke="#000" stroke-width="1.4"/>
<polyline points="639.7,463.5 639.7,469.7 642.2,469.7" fill="none" stroke="#000" stroke-width="2.2"/>
<polyline points="642.9,461.5 642.9,477" fill="none" stroke="#000" stroke-width="1.4"/>
<polyline points="634,474.5 643,474.5" fill="none" stroke="#000" stroke-width="2.2"/>
<polyline points="637,478 645.4,482" fill="none" stroke="#000" stroke-width="1.3"/>
<polyline points="654.2,560 654.2,502.6 685.6,502.6" fill="none" stroke="#000" stroke-width="1.8"/>
<path d="M673.6,520.3 L673.6,508.4 A4.8,4.8 0 0 1 683.2,508.4 L683.2,520.3 Z" fill="none" stroke="#000" stroke-width="1.8"/>
<circle cx="678.3" cy="508.8" r="2.2" fill="none" stroke="#000" stroke-width="1.5"/>
<rect x="672.8" y="520.3" width="9.6" height="8.1" rx="0" fill="none" stroke="#000" stroke-width="1.7"/>
<rect x="674.4" y="528.4" width="7.2" height="4.6" rx="0" fill="none" stroke="#000" stroke-width="1.4"/>
<line x1="677" y1="529.5" x2="677" y2="532" stroke="#000" stroke-width="1"/>
<line x1="679.4" y1="529.5" x2="679.4" y2="532" stroke="#000" stroke-width="1"/>
<path d="M663.6,513 L666,506 L668.6,504.2 L672,506 L672,512 L668.6,524 L668.4,527 L664,527 Z" fill="#000" stroke="#000" stroke-width="0.6"/>
<circle cx="670.6" cy="508.8" r="1.3" fill="#d0cbbe" stroke="none" stroke-width="0.2"/>
<rect x="683.4" y="511" width="2" height="6" rx="0" fill="#000" stroke="#000" stroke-width="0.3"/>
<rect x="656.6" y="517" width="3.6" height="19.4" rx="0" fill="none" stroke="#000" stroke-width="1.4"/>
<line x1="662.4" y1="512" x2="662.4" y2="536" stroke="#000" stroke-width="1.4"/>
<polyline points="664.6,526.7 670.2,546 670.2,549.2" fill="none" stroke="#000" stroke-width="1.8"/>
<polyline points="673.4,531.5 675,546" fill="none" stroke="#000" stroke-width="1.4"/>
<line x1="667.8" y1="549.2" x2="688.6" y2="549.2" stroke="#000" stroke-width="1.7"/>
<line x1="665.4" y1="553.3" x2="688.6" y2="553.3" stroke="#000" stroke-width="2.2"/>
<line x1="655.3" y1="526.7" x2="655.3" y2="629" stroke="#000" stroke-width="4"/>
<line x1="665.4" y1="549" x2="665.4" y2="629" stroke="#000" stroke-width="1.8"/>
<line x1="653.6" y1="628.6" x2="666.2" y2="628.6" stroke="#000" stroke-width="2.6"/>
<rect x="656.6" y="567" width="1.4" height="1.6" rx="0" fill="#d0cbbe" stroke="none" stroke-width="0.2"/>
<rect x="656.6" y="578" width="1.4" height="1.6" rx="0" fill="#d0cbbe" stroke="none" stroke-width="0.2"/>
<rect x="656.6" y="613.5" width="1.4" height="1.6" rx="0" fill="#d0cbbe" stroke="none" stroke-width="0.2"/>
<rect x="663" y="613.5" width="1.6" height="2" rx="0" fill="#000" stroke="#000" stroke-width="0.2"/>
<circle cx="634.6" cy="569" r="5.2" fill="none" stroke="#000" stroke-width="1.8"/>
<rect x="631.6" y="574" width="6.2" height="4.4" rx="0" fill="none" stroke="#000" stroke-width="1.3"/>
<rect x="630" y="578.4" width="9.6" height="2.6" rx="0" fill="#000" stroke="#000" stroke-width="0.4"/>
<line x1="624.5" y1="581.6" x2="653.4" y2="581.6" stroke="#000" stroke-width="2.4"/>
<line x1="624.5" y1="599.6" x2="653.4" y2="599.6" stroke="#000" stroke-width="2.4"/>
<line x1="625.2" y1="581" x2="625.2" y2="600" stroke="#000" stroke-width="1.5"/>
<line x1="629.6" y1="582" x2="629.6" y2="599" stroke="#000" stroke-width="1.5"/>
<line x1="632" y1="582" x2="632" y2="599" stroke="#000" stroke-width="1.5"/>
<line x1="638.2" y1="582" x2="638.2" y2="599" stroke="#000" stroke-width="1.8"/>
<path d="M638.2,583.8 Q650,584.5 650,590.6 Q650,597 638.2,597.4" fill="none" stroke="#000" stroke-width="1.8"/>
<path d="M638.2,586 Q647,586.6 647,590.6 Q647,594.8 638.2,595.2" fill="none" stroke="#000" stroke-width="1.3"/>
<rect x="649.6" y="581.2" width="4.4" height="2.2" rx="0" fill="#000" stroke="#000" stroke-width="0.2"/>
<rect x="649.6" y="598.4" width="4.4" height="2.2" rx="0" fill="#000" stroke="#000" stroke-width="0.2"/>
<polyline points="634,600 634,610" fill="none" stroke="#000" stroke-width="2.4"/>
<rect x="631" y="604" width="6.6" height="3" rx="0" fill="none" stroke="#000" stroke-width="1"/>
<line x1="627.6" y1="610" x2="637" y2="610" stroke="#000" stroke-width="2.4"/>
<polyline points="629.8,600.4 645,605.5 653.4,605.5" fill="none" stroke="#000" stroke-width="1.3"/>
<line x1="665.4" y1="599.6" x2="725.7" y2="599.6" stroke="#000" stroke-width="2.2"/>
<line x1="665.4" y1="603" x2="707" y2="603" stroke="#000" stroke-width="1.3"/>
<line x1="665.4" y1="607.9" x2="707.2" y2="607.9" stroke="#000" stroke-width="1.8"/>
<path d="M709,600.6 L725.7,600.6 Q726.5,605 728,605.6 L741.2,608.6 Q752,612 760.4,627.2" fill="none" stroke="#000" stroke-width="1.8"/>
<path d="M725,609.6 L709,609.6 Q707.2,609.6 707.2,608 L707.2,602" fill="none" stroke="#000" stroke-width="1.5"/>
<line x1="725" y1="609.6" x2="741" y2="609.4" stroke="#000" stroke-width="1.3"/>
<rect x="712" y="597.8" width="8" height="1.8" rx="0.8" fill="#000" stroke="#000" stroke-width="0.3"/>
<polyline points="665.4,586.2 677.5,599.9" fill="none" stroke="#000" stroke-width="1.7"/>
<rect x="681.5" y="598.2" width="8.5" height="1.8" rx="0" fill="#000" stroke="#000" stroke-width="0.3"/>
<line x1="688.7" y1="571.2" x2="720" y2="571.2" stroke="#000" stroke-width="2.6"/>
<rect x="719.5" y="567.8" width="7" height="6.2" rx="1.2" fill="#000" stroke="#000" stroke-width="0.4"/>
<circle cx="722.6" cy="571.2" r="1" fill="#d0cbbe" stroke="none" stroke-width="0.2"/>
<line x1="714.4" y1="567" x2="729.7" y2="567" stroke="#000" stroke-width="1.3"/>
<polyline points="725.7,564.5 729.2,564.5 733.7,570.2 751.4,570.2 754.9,563.4" fill="none" stroke="#000" stroke-width="1.7"/>
<path d="M753.3,562.8 758.8,562.8 758.8,568.6 754.6,570.2Z" fill="#000" stroke="#000" stroke-width="0.6"/>
<rect x="702.6" y="554" width="3.6" height="24" rx="0" fill="none" stroke="#000" stroke-width="1.4"/>
<path d="M703.3,519.2 L706.5,519.2 L708.2,538.5 Q710.6,541 710.5,548 Q710.4,555 708.6,557.4 L704.6,558 L701.2,565 L698.6,556 Q699.4,544 701.6,540.4 L703.3,538 Z" fill="#000" stroke="#000" stroke-width="0.8"/>
<line x1="710.6" y1="546.4" x2="710.6" y2="559.4" stroke="#000" stroke-width="1.8"/>
<line x1="714.5" y1="546.4" x2="714.5" y2="559.4" stroke="#000" stroke-width="2.2"/>
<line x1="717" y1="546.4" x2="717" y2="559.4" stroke="#000" stroke-width="1.3"/>
<line x1="719.4" y1="546.4" x2="719.4" y2="559.4" stroke="#000" stroke-width="1.5"/>
<line x1="722.6" y1="546.4" x2="722.6" y2="559.4" stroke="#000" stroke-width="1.5"/>
<line x1="725.8" y1="546.4" x2="725.8" y2="559.4" stroke="#000" stroke-width="2.4"/>
<line x1="712.8" y1="546.2" x2="725.7" y2="546.2" stroke="#000" stroke-width="1.3"/>
<line x1="712.8" y1="559.8" x2="725.7" y2="559.8" stroke="#000" stroke-width="1.8"/>
<polyline points="743.8,546.6 731.4,554.2 726.6,553.4" fill="none" stroke="#000" stroke-width="1.7"/>
<polyline points="694.4,547.4 700,563.4" fill="none" stroke="#000" stroke-width="2.9"/>
<path d="M726,600 L722.8,595.1 L722.4,592.7 L749.8,576.6 L764.2,562.1 L770.6,550.9" fill="none" stroke="#000" stroke-width="1.8"/>
<polyline points="770.6,550.9 772.5,547.5" fill="none" stroke="#000" stroke-width="1.8"/>
<path d="M770.1,547 777.7,547 776.3,557.1 774.6,568.1 772.3,568.1 773.1,555.1 771.9,555.1 770.6,568.1 768.6,568.1Z" fill="#000" stroke="#000" stroke-width="0.6"/>
<polyline points="769.7,567.6 768.5,585.2 768.5,610" fill="none" stroke="#000" stroke-width="3.3"/>
<line x1="768.7" y1="608" x2="768.7" y2="627.8" stroke="#000" stroke-width="3.3"/>
<polyline points="774.6,568.1 774.1,582.2 775.3,599.3" fill="none" stroke="#000" stroke-width="1.4"/>
<polyline points="740,548.6 743.5,546.8 770.1,546.8" fill="none" stroke="#000" stroke-width="1.5"/>
<path d="M752,562.6 758.1,563.1 758.1,568.1 755.1,572.3 752,572.3Z" fill="#000" stroke="#000" stroke-width="0.6"/>
<polyline points="740,570.6 753.1,570.6" fill="none" stroke="#000" stroke-width="2.2"/>
<polyline points="740,583.2 764.1,567.1 770.1,548.1" fill="none" stroke="#000" stroke-width="1.7"/>
<polyline points="740,575.2 755.1,575.2 763.6,569.1" fill="none" stroke="#000" stroke-width="1.5"/>
<polyline points="730,589.3 740,583.2" fill="none" stroke="#000" stroke-width="1.7"/>
<polyline points="779.2,553.3 792.2,547" fill="none" stroke="#000" stroke-width="1.7"/>
<polyline points="779.2,553.3 780.2,559.1 792.2,559.1" fill="none" stroke="#000" stroke-width="1.8"/>
<line x1="780.7" y1="552.6" x2="780.7" y2="559.1" stroke="#000" stroke-width="1.8"/>
<line x1="783.4" y1="551.6" x2="783.4" y2="559.1" stroke="#000" stroke-width="1.8"/>
<line x1="786.4" y1="550.1" x2="786.4" y2="559.1" stroke="#000" stroke-width="1.8"/>
<line x1="790" y1="548.3" x2="790" y2="559.1" stroke="#000" stroke-width="1.8"/>
<polyline points="799.2,559.1 810.3,553.1 817.3,548.6 840.4,548.6" fill="none" stroke="#000" stroke-width="1.7"/>
<line x1="796.7" y1="547" x2="796.7" y2="574" stroke="#000" stroke-width="2.6"/>
<line x1="791" y1="547" x2="791" y2="559" stroke="#000" stroke-width="1.4"/>
<path d="M804.5,547 L804.5,577.7 L806.3,578.4 L808.1,577.7 L808.1,547" fill="none" stroke="#000" stroke-width="1.4"/>
<path d="M804.3,547.6 808.3,547.6 807.9,555.1 804.7,555.1Z" fill="#000" stroke="#000" stroke-width="0.5"/>
<polyline points="777.1,564.1 804.3,564.1" fill="none" stroke="#000" stroke-width="2.6"/>
<polyline points="782.2,567.3 804.3,567.7" fill="none" stroke="#000" stroke-width="1.4"/>
<polyline points="793.2,570.3 819.5,570.3" fill="none" stroke="#000" stroke-width="2.9"/>
<polyline points="794.7,573.4 817.8,573.4" fill="none" stroke="#000" stroke-width="2.9"/>
<rect x="803.3" y="559.1" width="6" height="9" rx="0" fill="none" stroke="#000" stroke-width="1.3"/>
<path d="M781.2,567.1 L777.3,567.1 Q773.6,569.1 773.1,574.2 L781.2,574.2 Z" fill="none" stroke="#000" stroke-width="1.5"/>
<rect x="779.6" y="568.6" width="1.8" height="4.4" rx="0" fill="#000" stroke="#000" stroke-width="0.3"/>
<polyline points="787.2,579.2 795.2,579.2" fill="none" stroke="#000" stroke-width="1.8"/>
<line x1="748" y1="628.6" x2="783.8" y2="628.6" stroke="#000" stroke-width="3.3"/>
<line x1="770.2" y1="599.5" x2="786.4" y2="599.5" stroke="#000" stroke-width="2"/>
<line x1="770.2" y1="602.3" x2="786.4" y2="602.3" stroke="#000" stroke-width="2.2"/>
<line x1="770.2" y1="605.6" x2="786.4" y2="605.6" stroke="#000" stroke-width="1.5"/>
<line x1="786.6" y1="568" x2="786.6" y2="629.4" stroke="#000" stroke-width="1.7"/>
<line x1="797.4" y1="573" x2="797.4" y2="629.4" stroke="#000" stroke-width="2.9"/>
<line x1="786.2" y1="629" x2="798.8" y2="629" stroke="#000" stroke-width="2.2"/>
<line x1="786.6" y1="600.8" x2="796" y2="600.8" stroke="#000" stroke-width="1.7"/>
<rect x="787" y="614.6" width="2.4" height="1.8" rx="0" fill="#000" stroke="#000" stroke-width="0.2"/>
<path d="M845,412.8 Q850.5,409.6 856,412.6" fill="none" stroke="#000" stroke-width="1.7"/>
<polyline points="855.9,412.9 866.2,400.6" fill="none" stroke="#000" stroke-width="1.7"/>
<circle cx="866.9" cy="404.2" r="3.1" fill="none" stroke="#000" stroke-width="1.7"/>
<path d="M870.2,418.5 L870.2,404 A4.6,4.6 0 0 1 879.4,404 L879.4,416.5" fill="none" stroke="#000" stroke-width="2.3"/>
<path d="M875.7,419 L875.7,406.4 A5.6,5.6 0 0 1 886.9,406.4 L886.9,419.4" fill="none" stroke="#000" stroke-width="2.5"/>
<circle cx="880.9" cy="407" r="3" fill="none" stroke="#000" stroke-width="2.1"/>
<line x1="872.6" y1="406" x2="872.6" y2="419" stroke="#000" stroke-width="1.5"/>
<line x1="878.8" y1="410" x2="878.8" y2="418.6" stroke="#000" stroke-width="1.8"/>
<line x1="882.6" y1="410.5" x2="882.6" y2="417.4" stroke="#000" stroke-width="1.8"/>
<path d="M863.6,409.6 L869,408.6 L871.8,410 L871.8,419 L868.4,423.4 L867.6,415.6 L863.6,415.6 Z" fill="#000" stroke="#000" stroke-width="0.6"/>
</svg>
</body></html>
